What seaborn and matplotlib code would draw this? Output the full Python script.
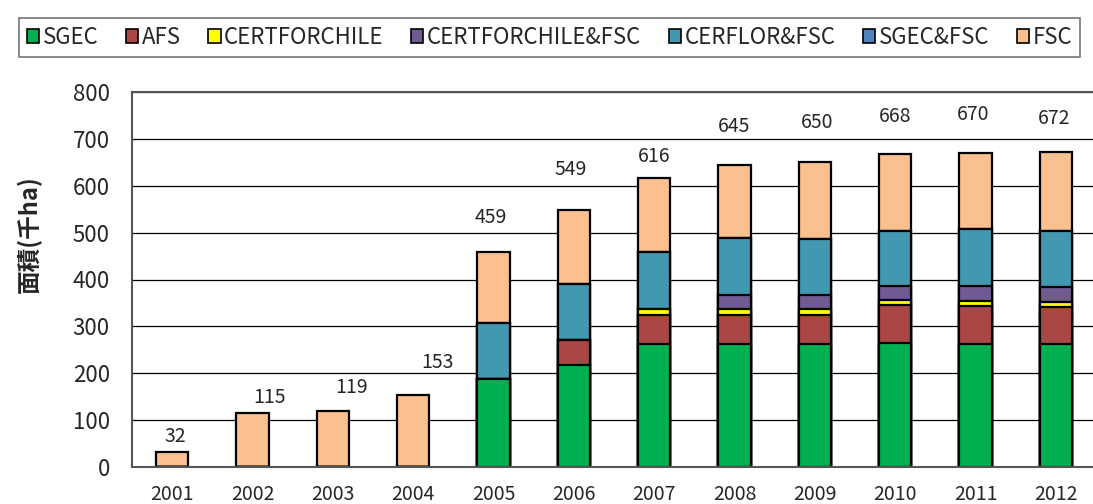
import numpy as np
import pandas as pd
import matplotlib
matplotlib.use('Agg')
import matplotlib.pyplot as plt
from matplotlib.patches import Patch
from matplotlib.ticker import MultipleLocator, FixedLocator
import seaborn as sns

sns.set_style('white')
plt.rcParams['font.family'] = ['Noto Sans CJK JP', 'DejaVu Sans']

# 年次と認証制度ごとの面積(千ha)
years = ['2001', '2002', '2003', '2004', '2005', '2006',
         '2007', '2008', '2009', '2010', '2011', '2012']
schemes = ['SGEC', 'AFS', 'CERTFORCHILE', 'CERTFORCHILE&FSC',
           'CERFLOR&FSC', 'SGEC&FSC', 'FSC']
sgec = [0, 0, 1, 1, 188, 217, 263, 263, 263, 264, 262, 262]
afs = [0, 0, 0, 0, 0, 54, 62, 62, 62, 81, 82, 79]
certforchile = [0, 0, 0, 0, 0, 0, 12, 12, 12, 11, 11, 11]
certforchile_fsc = [0, 0, 0, 0, 0, 0, 0, 30, 30, 31, 31, 32]
cerflor_fsc = [0, 0, 0, 0, 119, 120, 121, 121, 119, 117, 121, 119]
sgec_fsc = [0, 0, 0, 0, 0, 0, 0, 0, 0, 0, 0, 0]
fsc = [32, 115, 118, 152, 152, 158, 158, 157, 164, 164, 163, 169]
totals = [32, 115, 119, 153, 459, 549, 616, 645, 650, 668, 670, 672]

colors = ['#00B050', '#A94744', '#FFFF00', '#705A92',
          '#4298B0', '#4F81BD', '#FAC090']

# ラベルのずらし量(ピクセル)
label_dx = [3, 17, 19, 24, -3, -3, 0, 0, 2, 0, -2, -2]
label_dy = [15, 16, 24, 33, 34, 40, 22, 38, 40, 37, 38, 34]

df = pd.DataFrame({'year': years, 'SGEC': sgec, 'AFS': afs,
                   'CERTFORCHILE': certforchile,
                   'CERTFORCHILE&FSC': certforchile_fsc,
                   'CERFLOR&FSC': cerflor_fsc, 'SGEC&FSC': sgec_fsc,
                   'FSC': fsc})
cum = df[schemes].cumsum(axis=1)

fig = plt.figure(figsize=(10.93, 5.04), dpi=100)
ax = fig.add_axes([132 / 1093, 1 - 467 / 504, 964 / 1093, 375 / 504])

# 上の層から順に累積値を重ねて描く
for name, col in zip(schemes[::-1], colors[::-1]):
    sns.barplot(x=df['year'], y=cum[name], color=col, edgecolor='black',
                linewidth=1.6, width=0.4, errorbar=None, ax=ax,
                saturation=1, order=years)

ax.set_ylim(0, 800)
ax.set_xlim(-0.5, len(years) - 0.5)
ax.yaxis.set_major_locator(MultipleLocator(100))
ax.grid(axis='y', color='black', linewidth=0.9)
ax.set_axisbelow(True)
ax.tick_params(axis='y', length=0, pad=16, labelsize=16)
ax.tick_params(axis='x', length=0, pad=12, labelsize=14)
ax.xaxis.set_minor_locator(FixedLocator(np.arange(0.5, len(years) - 0.5, 1)))
ax.tick_params(axis='x', which='minor', direction='in', length=4,
               width=1, color='#555555')
ax.set_xlabel('')
ax.set_ylabel('面積(千ha)', fontsize=17, fontweight='bold')
ax.yaxis.set_label_coords(-0.093, 0.62)
for side in ['left', 'bottom', 'top', 'right']:
    ax.spines[side].set_color('#555555')
    ax.spines[side].set_linewidth(1.5)
ax.spines['right'].set_visible(False)

for i, t in enumerate(totals):
    ax.annotate(str(t), (i, t), xytext=(label_dx[i] * 0.72, label_dy[i] * 0.72),
                textcoords='offset points', ha='center', va='center',
                fontsize=14)

handles = [Patch(facecolor=c, edgecolor='black', linewidth=1.2) for c in colors]
leg = fig.legend(handles, schemes, loc='upper left', ncol=7,
                 bbox_to_anchor=(8 / 1093, 1 - 7 / 504), fontsize=16,
                 frameon=True, fancybox=False, handlelength=0.55,
                 handleheight=0.55, handletextpad=0.15, columnspacing=1.25,
                 borderpad=0.35)
leg.get_frame().set_edgecolor('#555555')
leg.get_frame().set_linewidth(1.2)

fig.savefig('out.png', dpi=100)
